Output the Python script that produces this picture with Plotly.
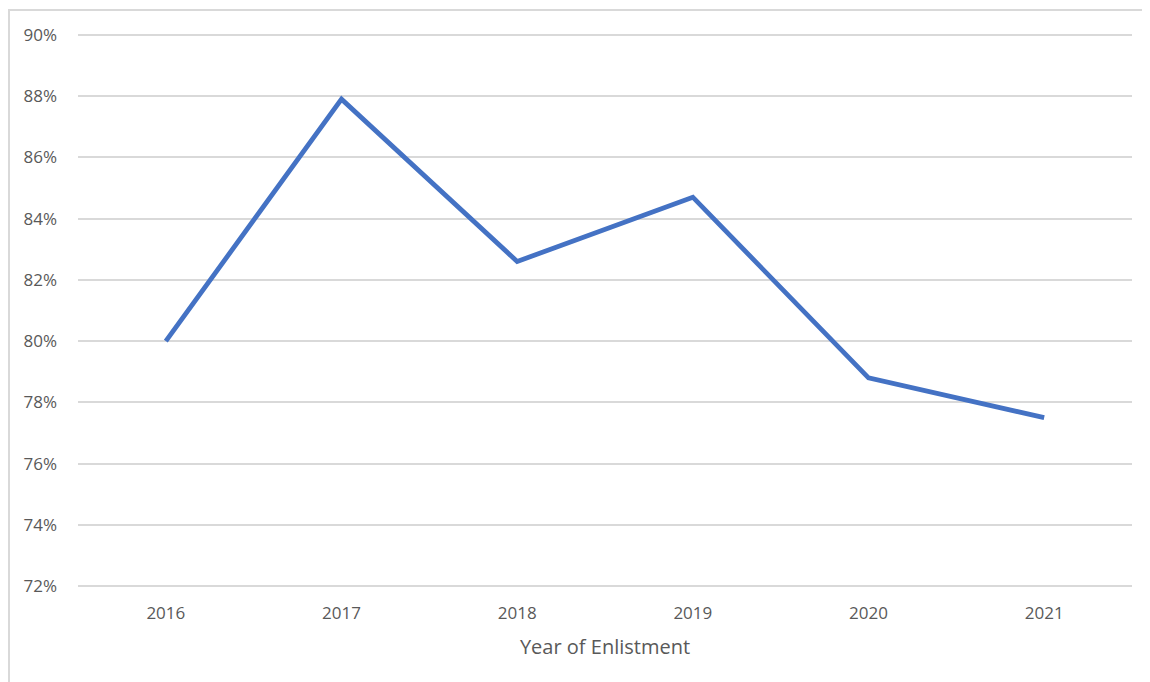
import plotly.graph_objects as go

years = ["2016", "2017", "2018", "2019", "2020", "2021"]
rates = [0.800, 0.879, 0.826, 0.847, 0.788, 0.775]
y_ticks = [0.72, 0.74, 0.76, 0.78, 0.80, 0.82, 0.84, 0.86, 0.88, 0.90]
y_labels = ["72%", "74%", "76%", "78%", "80%", "82%", "84%", "86%", "88%", "90%"]

FONT = "Open Sans, Liberation Sans, sans-serif"
OFF = 8  # page body margin
W, H = 1150 - OFF, 682 - OFF
L, R, T, B = 78 - OFF, 18, 35 - OFF - 2, 96 - 2
pw, ph = W - L - R, H - T - B

fig = go.Figure()
fig.add_trace(go.Scatter(
    x=years, y=rates, mode="lines",
    line=dict(color="#4472C4", width=4.8),
    hoverinfo="skip", showlegend=False,
))

# outer chart border (top & left visible)
bx0 = (1 - L) / pw
by1 = (H - B - 2) / ph
fig.add_shape(type="rect", xref="paper", yref="paper",
              x0=bx0, x1=1.2, y0=-0.5, y1=by1,
              line=dict(color="#D9D9D9", width=2), fillcolor="rgba(0,0,0,0)",
              layer="below")

fig.update_layout(
    width=W, height=H,
    margin=dict(l=L, r=R, t=T, b=B),
    paper_bgcolor="white", plot_bgcolor="white",
    font=dict(family=FONT, color="#595959", size=17),
    xaxis=dict(
        type="category", showgrid=False, zeroline=False,
        showline=False, ticks="", tickfont=dict(size=17, color="#595959"),
        ticklabelstandoff=13,
        title=dict(text="Year of Enlistment", font=dict(size=20, color="#595959"), standoff=16),
        range=[-0.5, 5.5],
    ),
    yaxis=dict(
        range=[0.7194, 0.9006], tickvals=y_ticks, ticktext=y_labels,
        showgrid=True, gridcolor="#D9D9D9", gridwidth=1.5,
        zeroline=False, showline=False, ticks="",
        tickfont=dict(size=17, color="#595959"), ticklabelstandoff=20,
    ),
)

fig.write_html("out.html")
